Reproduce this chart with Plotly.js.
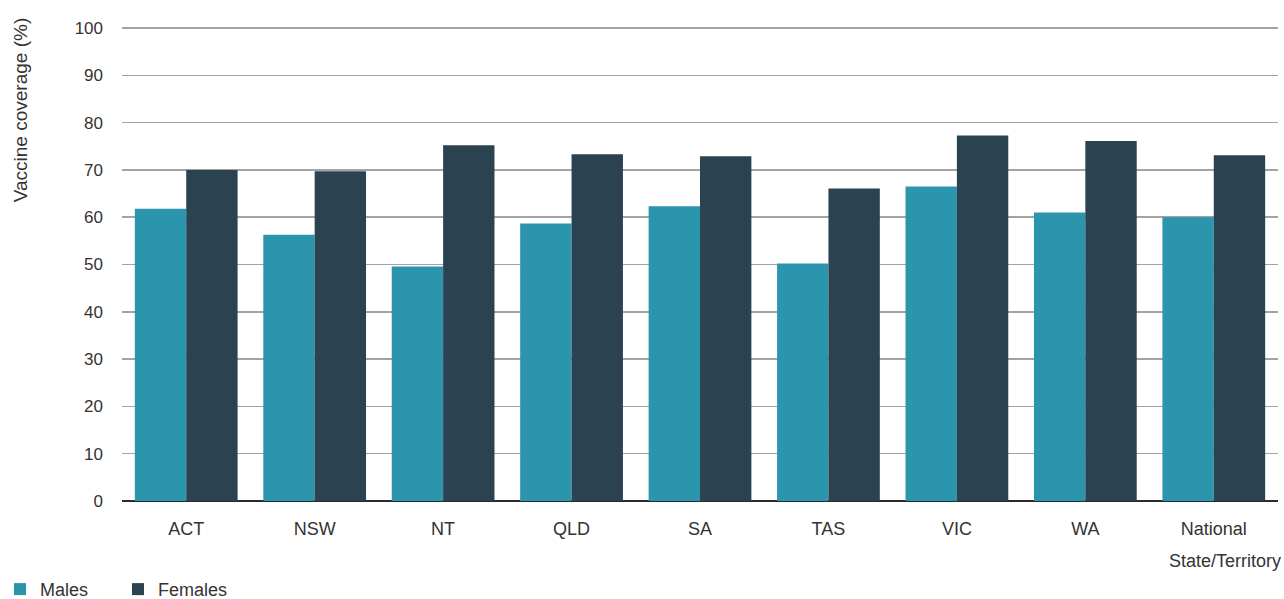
<!DOCTYPE html>
<html>
<head>
<meta charset="utf-8">
<script src="https://cdn.plot.ly/plotly-3.0.1.min.js"></script>
<style>html,body{margin:0;padding:0;background:#fff;}#chart{width:1284px;height:599px;}</style>
</head>
<body>
<div id="chart"></div>
<script>
const categories = ["ACT", "NSW", "NT", "QLD", "SA", "TAS", "VIC", "WA", "National"];
const males = [61.8, 56.3, 49.6, 58.7, 62.3, 50.2, 66.5, 61.0, 60.0];
const females = [70.0, 69.7, 75.2, 73.3, 72.9, 66.1, 77.3, 76.1, 73.1];
const yTicks = [0, 10, 20, 30, 40, 50, 60, 70, 80, 90, 100];

const fam = "Liberation Sans, Arial, sans-serif";
const txt = "#333";
const data = [
  {type: "bar", name: "Males", x: categories, y: males, marker: {color: "#2b95ad"}},
  {type: "bar", name: "Females", x: categories, y: females, marker: {color: "#2b4251"}}
];
const layout = {
  width: 1284, height: 599,
  margin: {l: 122, r: 6, t: 25, b: 98},
  font: {family: fam, size: 18, color: txt},
  barmode: "group", bargap: 0.2, bargroupgap: 0,
  paper_bgcolor: "#fff", plot_bgcolor: "#fff",
  showlegend: true,
  legend: {orientation: "h", xref: "container", yref: "container", x: 0.0, y: 0.016,
           xanchor: "left", yanchor: "middle", font: {family: fam, size: 18, color: txt},
           itemwidth: 30, entrywidth: 73, traceorder: "normal"},
  xaxis: {type: "category", showgrid: false, ticks: "", ticklabelstandoff: 15,
          tickfont: {family: fam, size: 18, color: txt}, showline: false, zeroline: false},
  yaxis: {range: [0, 100.65], tickvals: yTicks, showgrid: true, gridcolor: "#a3a3a3", gridwidth: 1.5,
          zeroline: true, zerolinecolor: "#2b2b2b", zerolinewidth: 2.5,
          tickfont: {family: fam, size: 17, color: txt},
          ticklabelstandoff: 18, fixedrange: true},
  annotations: [
    {text: "State/Territory", xref: "paper", yref: "paper", x: 1.004, y: -0.125,
     xanchor: "right", yanchor: "middle", showarrow: false,
     font: {family: fam, size: 18, color: txt}},
    {text: "Vaccine coverage (%)", xref: "paper", yref: "paper", x: -0.0882, y: 0.821,
     xanchor: "center", yanchor: "middle", textangle: -90, showarrow: false,
     font: {family: fam, size: 19, color: txt}}
  ]
};
Plotly.newPlot("chart", data, layout, {displayModeBar: false, staticPlot: true});
</script>
</body>
</html>
